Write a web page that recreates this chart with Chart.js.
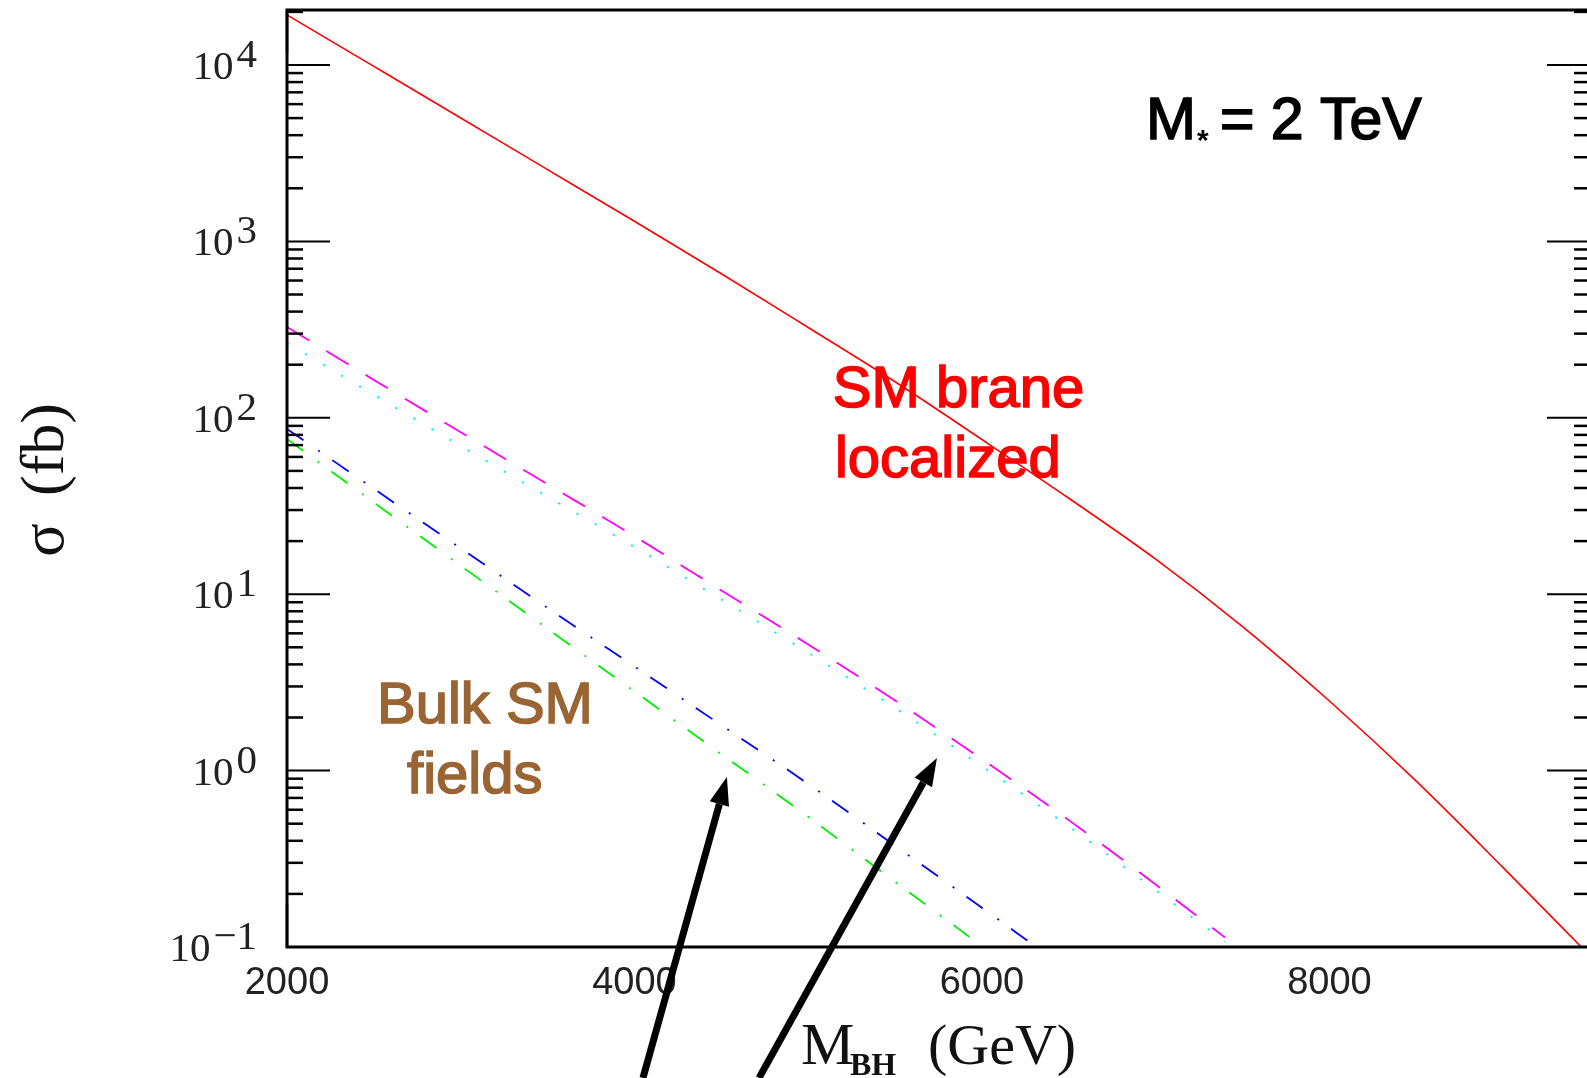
<!DOCTYPE html>
<html>
<head>
<meta charset="utf-8">
<script src="https://cdn.jsdelivr.net/npm/chart.js@4.4.1/dist/chart.umd.min.js"></script>
<style>
  html, body { margin: 0; padding: 0; background: #fff; overflow: hidden; }
  canvas { display: block; }
</style>
</head>
<body>
<canvas id="chart" width="1600" height="1078"></canvas>
<script>
// black hole production cross section vs M_BH, M* = 2 TeV
const massBrane  = [2000, 2500, 3000, 3500, 4000, 4500, 5000, 5500, 6000, 6500, 7000, 7500, 8000, 8500, 9000, 9500];
const sigmaBrane = [19230, 9820, 5010, 2550, 1300, 656, 325, 160, 75.3, 35.0, 15.8, 6.55, 2.48, 0.871, 0.282, 0.089];

const massBulk1  = [2000, 2500, 3000, 3500, 4000, 4500, 5000, 5500, 6000, 6500, 7000, 7400];
const sigmaBulk1 = [327, 164, 82.8, 42.0, 21.3, 10.5, 5.19, 2.50, 1.16, 0.524, 0.226, 0.113];
const sigmaBulk2 = [265, 135, 69.2, 35.7, 18.5, 9.33, 4.66, 2.26, 1.06, 0.482, 0.210, 0.107];

const massBulk3  = [2000, 2500, 3000, 3500, 4000, 4500, 5000, 5500, 6000, 6300];
const sigmaBulk3 = [86.5, 39.6, 18.2, 8.36, 3.89, 1.81, 0.84, 0.375, 0.167, 0.102];

const massBulk4  = [2000, 2500, 3000, 3500, 4000, 4500, 5000, 5500, 5950];
const sigmaBulk4 = [75.9, 33.1, 14.5, 6.37, 2.81, 1.24, 0.547, 0.234, 0.110];

const xTickLabels = [2000, 4000, 6000, 8000];
const yExponents = [-1, 0, 1, 2, 3, 4];

const notes = [
  { text: 'SM brane',  x: 5142, y: 115,   color: '#ff0000' },
  { text: 'localized', x: 5154, y: 46.1,  color: '#ff0000' },
  { text: 'Bulk SM',   x: 2518, y: 1.86,  color: '#9a6433' },
  { text: 'fields',    x: 2691, y: 0.746, color: '#9a6433' }
];
const arrows = [
  { from: [4049, 0.0181], to: [4532, 0.92] },
  { from: [4717, 0.0181], to: [5741, 1.179] }
];

function pts(xs, ys) {
  return xs.map((v, i) => ({ x: v, y: ys[i] }));
}

function line(ctx, x1, y1, x2, y2) {
  ctx.beginPath();
  ctx.moveTo(x1, y1);
  ctx.lineTo(x2, y2);
  ctx.stroke();
}

// fill + thin outline in the same colour, for a slightly heavier face
function heavyText(ctx, str, px, py, w) {
  ctx.lineWidth = w;
  ctx.fillText(str, px, py);
  ctx.strokeText(str, px, py);
}

const frame = {
  id: 'frame',
  afterDatasetsDraw(chart) {
    const { ctx, chartArea: a, scales: { x, y } } = chart;
    ctx.save();
    ctx.strokeStyle = '#000';
    ctx.lineWidth = 3;
    ctx.strokeRect(a.left, a.top, a.right - a.left, a.bottom - a.top);

    // inward ticks, top/bottom
    ctx.lineWidth = 2.5;
    x.ticks.forEach(t => {
      if ((t.value - 2000) % 400 !== 0) return;
      const px = x.getPixelForValue(t.value);
      const len = t.value % 2000 === 0 ? 43 : 16;
      line(ctx, px, a.bottom, px, a.bottom - len);
      line(ctx, px, a.top, px, a.top + len);
    });
    // inward ticks, left/right (1..9 x 10^n)
    y.ticks.forEach(t => {
      const e = Math.floor(Math.log10(t.value) + 1e-9);
      const m = t.value / Math.pow(10, e);
      if (Math.abs(m - Math.round(m)) > 1e-6) return;
      const py = y.getPixelForValue(t.value);
      const len = Math.round(m) === 1 ? 43 : 16;
      ctx.lineWidth = Math.round(m) === 1 ? 2 : 2.5;
      line(ctx, a.left, py, a.left + len, py);
      line(ctx, a.right, py, a.right - len, py);
    });

    // x tick labels
    ctx.fillStyle = '#222';
    ctx.font = '38px "Liberation Sans"';
    ctx.textAlign = 'center';
    ctx.textBaseline = 'alphabetic';
    xTickLabels.forEach(v => {
      ctx.fillText(String(v), x.getPixelForValue(v), a.bottom + 47);
    });

    // y tick labels 10^n
    ctx.font = '41px "Liberation Serif"';
    ctx.textAlign = 'left';
    yExponents.forEach(e => {
      const py = y.getPixelForValue(Math.pow(10, e));
      const sup = e < 0 ? '\u2212' + (-e) : String(e);
      const right = a.left - 30;
      const wSup = ctx.measureText(sup).width;
      const w10 = ctx.measureText('10').width;
      ctx.fillText(sup, right - wSup, py + 2);
      ctx.fillText('10', right - wSup - 3 - w10, py + 14);
    });

    // axis titles
    ctx.fillStyle = '#111';
    ctx.font = '60px "Liberation Serif"';
    ctx.fillText('M', 801, 1064);
    ctx.font = 'bold 32px "Liberation Serif"';
    ctx.fillText('BH', 850, 1075);
    ctx.font = '58px "Liberation Serif"';
    ctx.fillText('(GeV)', 928, 1064);

    ctx.save();
    ctx.rotate(-Math.PI / 2);
    ctx.font = '62px "Liberation Serif"';
    ctx.textAlign = 'center';
    ctx.fillText('\u03c3', -540, 63);
    ctx.textAlign = 'left';
    ctx.fillText('(fb)', -496, 63);
    ctx.restore();

    // M* label
    const mx = x.getPixelForValue(6944), my = y.getPixelForValue(3800);
    ctx.fillStyle = '#000';
    ctx.strokeStyle = '#000';
    ctx.font = '60px "Liberation Sans"';
    ctx.textAlign = 'left';
    heavyText(ctx, 'M', mx, my, 1.6);
    ctx.font = 'bold 30px "Liberation Sans"';
    ctx.fillText('*', mx + 51, my + 11);
    ctx.font = '59px "Liberation Sans"';
    heavyText(ctx, '= 2 TeV', mx + 74, my, 1.6);

    // curve labels
    ctx.font = '58px "Liberation Sans"';
    notes.forEach(n => {
      ctx.fillStyle = n.color;
      ctx.strokeStyle = n.color;
      heavyText(ctx, n.text, x.getPixelForValue(n.x), y.getPixelForValue(n.y), 1.6);
    });

    // arrows
    ctx.strokeStyle = '#000';
    ctx.fillStyle = '#000';
    arrows.forEach(ar => {
      const x1 = x.getPixelForValue(ar.from[0]), y1 = y.getPixelForValue(ar.from[1]);
      const x2 = x.getPixelForValue(ar.to[0]), y2 = y.getPixelForValue(ar.to[1]);
      const ang = Math.atan2(y2 - y1, x2 - x1);
      const head = 28, half = 10;
      const bx = x2 - head * Math.cos(ang), by = y2 - head * Math.sin(ang);
      ctx.lineWidth = 7;
      line(ctx, x1, y1, bx, by);
      ctx.beginPath();
      ctx.moveTo(x2, y2);
      ctx.lineTo(bx + half * Math.sin(ang), by - half * Math.cos(ang));
      ctx.lineTo(bx - half * Math.sin(ang), by + half * Math.cos(ang));
      ctx.closePath();
      ctx.fill();
    });
    ctx.restore();
  }
};

new Chart(document.getElementById('chart'), {
  type: 'line',
  data: {
    datasets: [
      { label: 'SM brane localized', data: pts(massBrane, sigmaBrane), borderColor: '#ff0000', borderWidth: 1.6 },
      { label: 'bulk 1', data: pts(massBulk1, sigmaBulk1), borderColor: '#ff00ff', borderWidth: 1.8, borderDash: [26, 20] },
      { label: 'bulk 2', data: pts(massBulk1, sigmaBulk2), borderColor: '#00efff', borderWidth: 2, borderDash: [2, 19] },
      { label: 'bulk 3', data: pts(massBulk3, sigmaBulk3), borderColor: '#0000ff', borderWidth: 1.8, borderDash: [20, 18, 2, 15] },
      { label: 'bulk 4', data: pts(massBulk4, sigmaBulk4), borderColor: '#00ee00', borderWidth: 1.8, borderDash: [20, 18, 2, 15] }
    ]
  },
  options: {
    responsive: false,
    animation: false,
    devicePixelRatio: 1,
    layout: { padding: { left: 287, top: 10, right: 10, bottom: 131 } },
    elements: { point: { radius: 0 }, line: { cubicInterpolationMode: 'monotone', fill: false } },
    plugins: { legend: { display: false }, tooltip: { enabled: false } },
    scales: {
      x: { type: 'linear', display: false, min: 2000, max: 9500, ticks: { stepSize: 400 } },
      y: { type: 'logarithmic', display: false, min: 0.1, max: 20500 }
    }
  },
  plugins: [frame]
});
</script>
</body>
</html>
